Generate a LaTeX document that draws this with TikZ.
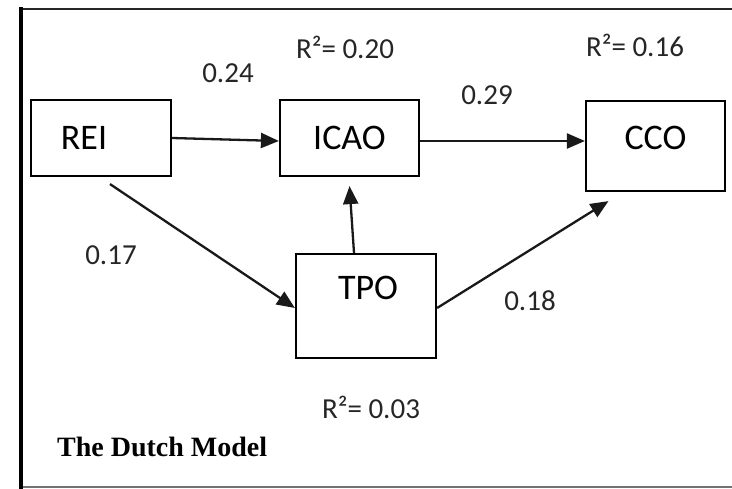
\documentclass[tikz,border=0pt]{standalone}
\usepackage{fontspec}
\setmainfont{Carlito}
\newfontfamily\titlefont{Liberation Serif}
\usetikzlibrary{arrows.meta,calc}
\tikzset{
  varbox/.style={draw=black,line width=2.2pt,inner sep=0pt,fill=white},
  boxlabel/.style={font=\fontsize{36}{40}\selectfont,inner sep=0pt},
  coef/.style={font=\fontsize{29}{32}\selectfont,inner sep=0pt,text=black!85},
  path/.style={line width=2.3pt,black!90,-{Triangle[length=18pt,width=15pt]}},
}
\begin{document}
\begin{tikzpicture}[x=1pt,y=-1pt]
\useasboundingbox (0,0) rectangle (732,489);
% frame
\draw[line width=2.5pt,black!85] (20,9) -- (732,9);
\draw[line width=2.5pt,black!55] (20,487) -- (732,487);
\draw[line width=4pt,black] (20.5,7.5) -- (20.5,489);
% boxes
\node[varbox,minimum width=140pt,minimum height=76pt,
      label={[boxlabel,xshift=-17pt]center:REI}] (REI) at (101,138) {};
\node[varbox,minimum width=139pt,minimum height=76pt,
      label={[boxlabel]center:ICAO}] (ICAO) at (349.5,138) {};
\node[varbox,minimum width=139pt,minimum height=90pt,
      label={[boxlabel,yshift=8pt]center:CCO}] (CCO) at (655.5,146) {};
\node[varbox,minimum width=140pt,minimum height=104pt,
      label={[boxlabel,xshift=2pt,yshift=18pt]center:TPO}] (TPO) at (366,306) {};
% paths
\draw[path] (REI.east) -- ([yshift=-3pt]ICAO.west);
\draw[path] ([yshift=-3pt]ICAO.east) -- ([yshift=-3pt]ICAO.east -| CCO.west);
\draw[path] ($(REI.south)+(9,7)$) -- ($(TPO.west)+(0,2)$);
\draw[path] ($(TPO.north)+(-12,0)$) -- ($(ICAO.south)+(0,9)$);
\draw[path] ($(TPO.east)+(0,2)$) -- ($(CCO.south)+(-47,9)$);
% coefficients
\node[coef] (r1) at (345,47) {R²= 0.20};
\node[coef] (r2) at (635,45) {R²= 0.16};
\node[coef] (r3) at (371,407) {R²= 0.03};
\node[coef] (c1) at (228,73) {0.24};
\node[coef] (c2) at (487,95) {0.29};
\node[coef] (c3) at (111,255) {0.17};
\node[coef] (c4) at (530,301) {0.18};
\node[font=\titlefont\bfseries\fontsize{28}{30}\selectfont,inner sep=0pt,anchor=west] (title) at (57,447) {The Dutch Model};
\end{tikzpicture}
\end{document}
